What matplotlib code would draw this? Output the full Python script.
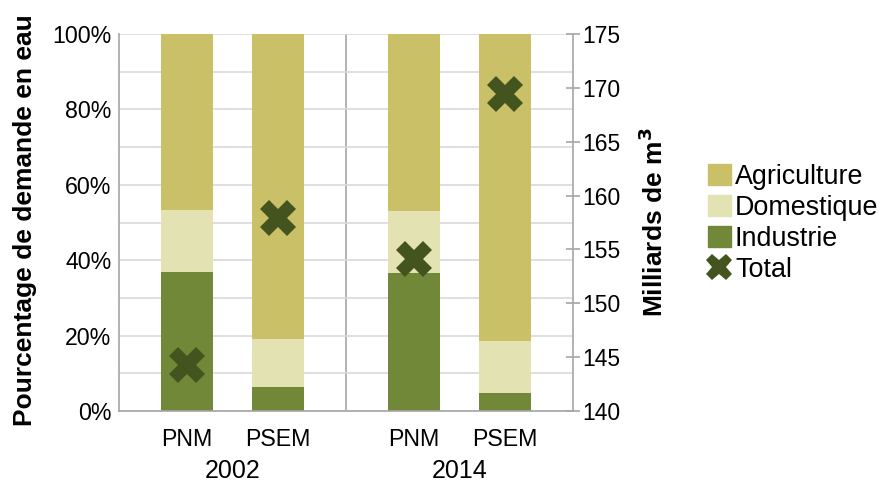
import numpy as np
import matplotlib
matplotlib.use("Agg")
import matplotlib.pyplot as plt
from matplotlib.patches import Patch
from matplotlib.lines import Line2D

plt.rcParams['font.family'] = ['Liberation Sans', 'DejaVu Sans']

# water demand shares (%) and totals (billion m3)
regions = ['PNM', 'PSEM', 'PNM', 'PSEM']
years = ['2002', '2014']
industrie = [36.9, 6.4, 36.5, 4.7]
domestique = [16.5, 12.7, 16.6, 13.9]
agriculture = [46.6, 80.9, 46.9, 81.4]
total = [144.3, 157.9, 154.1, 169.4]

c_agri = '#c9c068'
c_dom = '#e3e2b3'
c_ind = '#718839'
c_tot = '#44541f'
c_axis = '#a6a6a6'
c_grid = '#d9d9d9'

fig = plt.figure(figsize=(8.79, 4.83), dpi=100)
ax = fig.add_axes([119 / 879, 72 / 483, 454 / 879, 377 / 483])

xpos = np.array([0.6, 1.4, 2.6, 3.4])
w = 0.46
ind = np.array(industrie)
dom = np.array(domestique)
ax.bar(xpos, ind, w, color=c_ind, zorder=2)
ax.bar(xpos, dom, w, bottom=ind, color=c_dom, zorder=2)
ax.bar(xpos, agriculture, w, bottom=ind + dom, color=c_agri, zorder=2)

ax.set_xlim(0, 4)
ax.set_ylim(0, 100)
ax.set_yticks(np.arange(0, 101, 20))
ax.set_yticks(np.arange(0, 101, 10), minor=True)
ax.set_yticklabels([f'{v}%' for v in range(0, 101, 20)], fontsize=16.7)
ax.grid(axis='y', which='both', color=c_grid, linewidth=1.2, zorder=0)
ax.tick_params(axis='y', which='both', length=0, pad=5.5)
ax.axvline(2, color=c_axis, linewidth=1.2, zorder=1)

ax.set_xticks(xpos)
ax.set_xticklabels(regions, fontsize=16.7)
ax.tick_params(axis='x', length=0, pad=12)
for i, yr in enumerate(years):
    ax.text(1 + 2 * i, -0.158, yr, transform=ax.get_xaxis_transform(),
            ha='center', va='center', fontsize=18)

for s in ['top', 'right']:
    ax.spines[s].set_visible(False)
for s in ['left', 'bottom']:
    ax.spines[s].set_color(c_axis)
    ax.spines[s].set_linewidth(1.2)

ax2 = ax.twinx()
ax2.plot(xpos, total, linestyle='none', marker='X', markersize=26,
         color=c_tot, markeredgewidth=0, zorder=3)
ax2.set_ylim(140, 175)
ax2.set_yticks(np.arange(140, 176, 5))
ax2.tick_params(axis='y', direction='inout', length=10, width=1.2,
                color=c_axis, labelsize=16.5, pad=1.5)
for s in ['top', 'left', 'bottom']:
    ax2.spines[s].set_visible(False)
ax2.spines['right'].set_color(c_axis)
ax2.spines['right'].set_linewidth(1.2)

fig.text(25 / 879, 1 - 220 / 483, 'Pourcentage de demande en eau', rotation=90,
         ha='center', va='center', fontsize=19, fontweight='bold')
fig.text(654 / 879, 1 - 222 / 483, 'Milliards de m$^\\mathbf{3}$', rotation=90,
         ha='center', va='center', fontsize=19, fontweight='bold')

handles = [Patch(color=c_agri), Patch(color=c_dom), Patch(color=c_ind),
           Line2D([], [], linestyle='none', marker='X', markersize=19,
                  color=c_tot, markeredgewidth=0)]
fig.legend(handles, ['Agriculture', 'Domestique', 'Industrie', 'Total'],
           loc='upper left', bbox_to_anchor=(708 / 879, 1 - 164 / 483),
           frameon=False, fontsize=19.4, handlelength=0.85, handleheight=0.85,
           handletextpad=0.15, labelspacing=0.18, borderpad=0, borderaxespad=0)

fig.savefig('out.png', dpi=100)
